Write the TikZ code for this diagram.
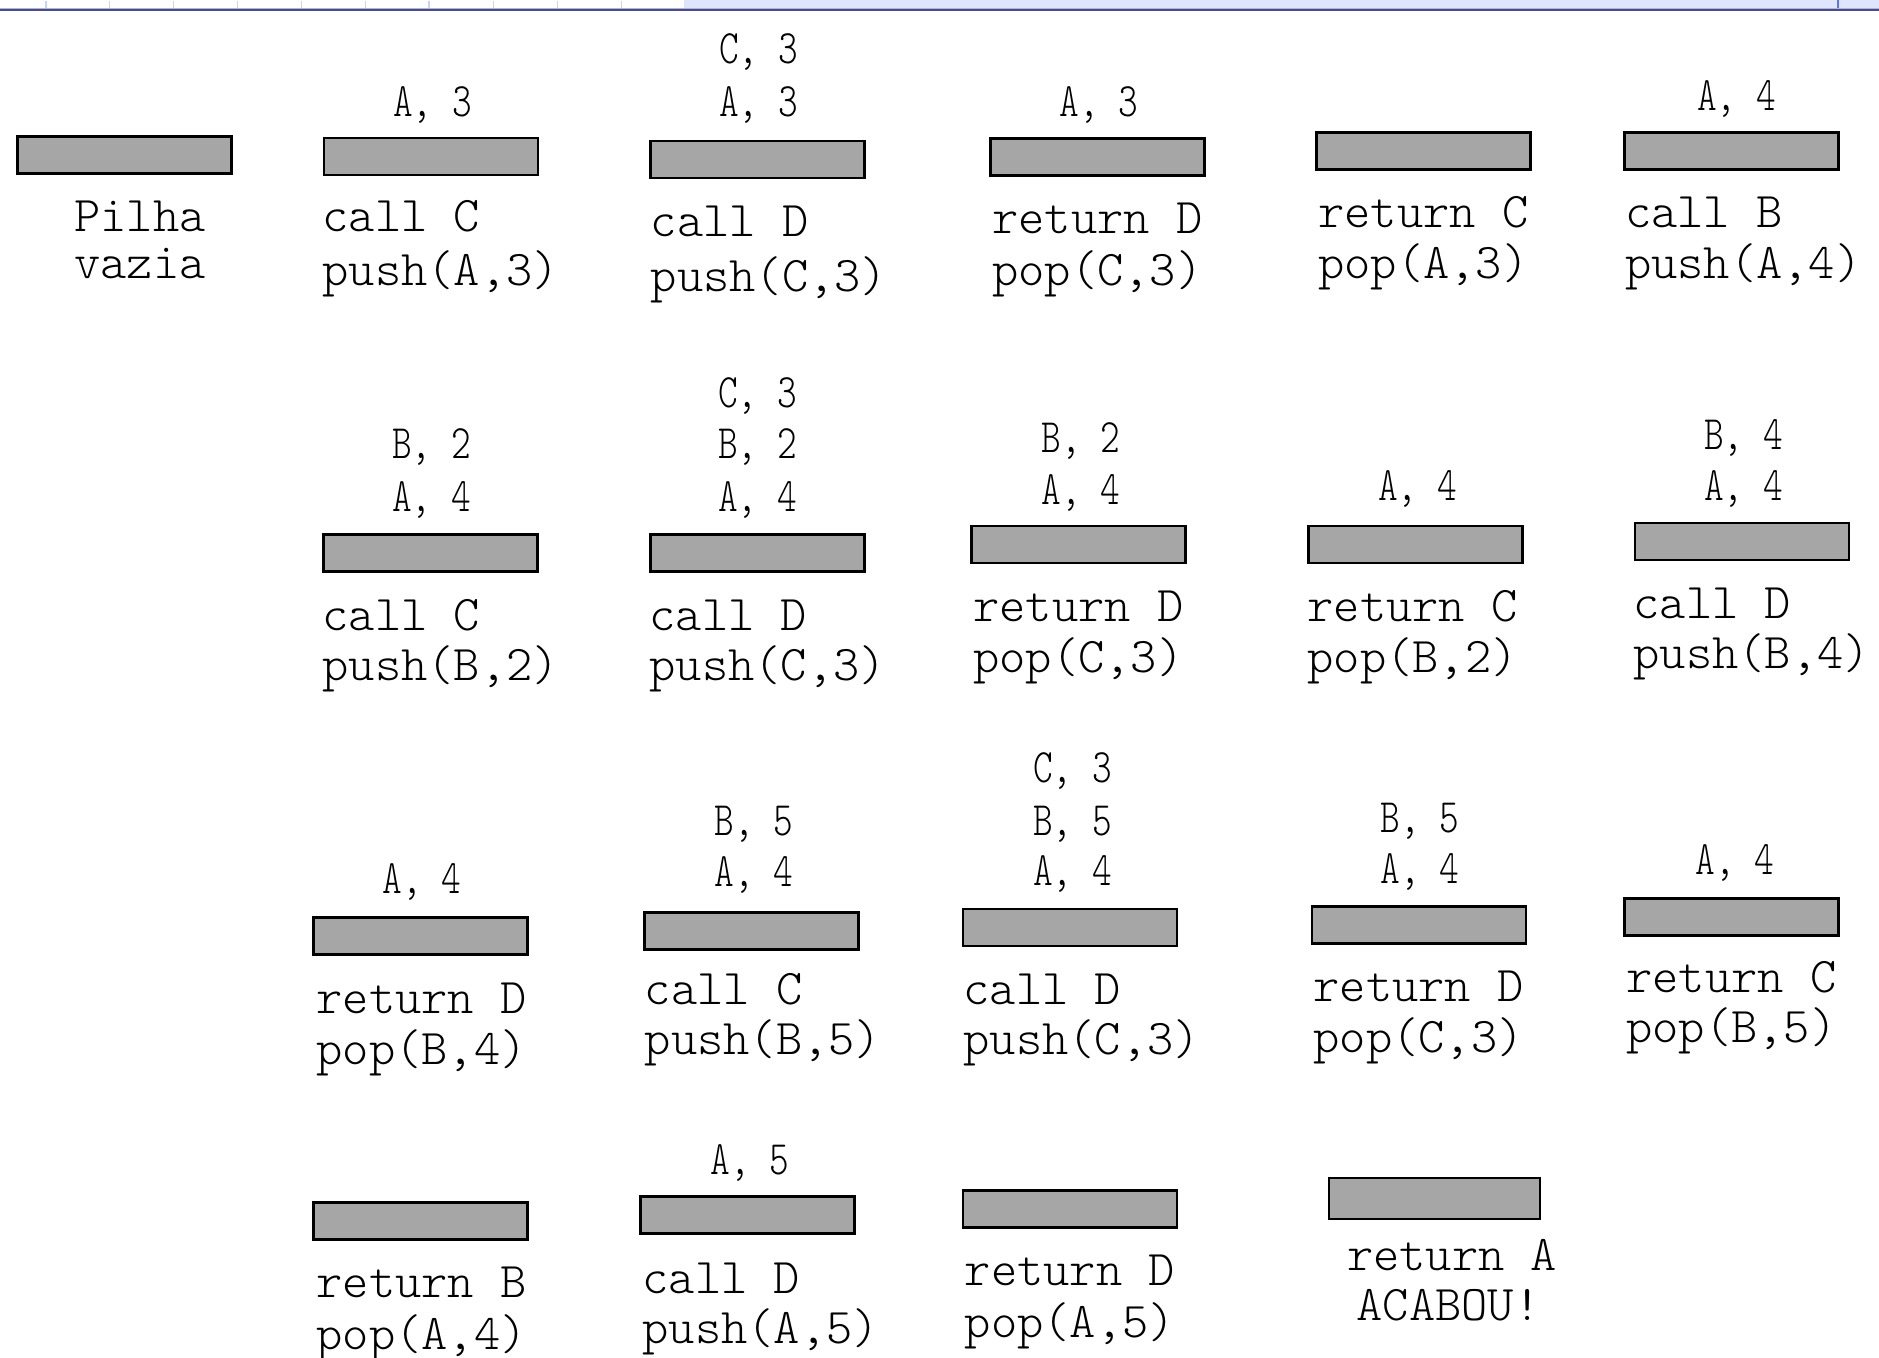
\documentclass[tikz,border=0pt]{standalone}
\usepackage{fontspec}
\usepackage{graphicx}
\newfontfamily\lmlight{Latin Modern Mono Light}
\definecolor{barfill}{RGB}{166,166,166}
\definecolor{bandblue}{RGB}{222,229,252}
\definecolor{tickblue}{RGB}{200,212,245}
\definecolor{navyline}{RGB}{72,76,138}
\definecolor{lavline}{RGB}{176,180,218}
\definecolor{vblue}{RGB}{90,118,230}
\newcommand\bodyfont{\fontsize{50}{56}\selectfont\lmlight}
\newcommand\lblfont{\fontsize{48}{52}\selectfont\lmlight}
\newcommand\narrow[1]{\scalebox{0.78}[1]{#1}}
\tikzset{
  bar/.style={draw=black, line width=2.6pt, fill=barfill, inner sep=0pt,
              minimum width=214pt, minimum height=37pt},
  txt/.style={font=\bodyfont, anchor=base west, inner sep=0pt},
  lbl/.style={font=\lblfont, anchor=base, inner sep=0pt},
}
\begin{document}
\begin{tikzpicture}[x=1.1983pt,y=-1.1983pt]
\useasboundingbox (0,0) rectangle (1568,1133);
\fill[white] (0,0) rectangle (1568,1133);
% top strip
\fill[bandblue] (571,0) rectangle (1568,7);
\foreach \x in {38.4,91.6,144.6,198.4,251.5,304.8,358,411.6,464.9,518.4}
  \draw[tickblue, line width=1.2pt] (\x,0.5) -- (\x,6.5);
\draw[vblue, line width=1.6pt] (1533.6,0) -- (1533.6,7.5);
\fill[lavline] (0,6.6) rectangle (1568,7.4);
\fill[navyline] (0,7.4) rectangle (1568,8.9);
% stack boxes
\foreach \n/\cx/\cy in {1/104/129.5, 2/359.5/130.5, 3/632/133, 4/916/131,
    5/1188/126, 6/1445/126, 7/359/461.5, 8/632/461.5, 9/900/454.5,
    10/1181/454.5, 11/1453.5/452, 12/351/781, 13/627/777, 14/893/774,
    15/1184/772, 16/1445/765, 17/351/1019, 18/624/1014, 19/893/1009}
  \node[bar] (b\n) at (\cx,\cy) {};
\node[bar, minimum width=211pt, minimum height=41pt] (b20) at (1197,1000) {};
% operation texts
\foreach \n/\x/\ya/\yb/\la/\lb in {
    1/62/193/232/Pilha/vazia,
    2/269/193/238/call C/{push(A,3)},
    3/543/197/243/call D/{push(C,3)},
    4/828/195/238/return D/{pop(C,3)},
    5/1100/190/232/return C/{pop(A,3)},
    6/1356/190/232/call B/{push(A,4)},
    7/269/526/568/call C/{push(B,2)},
    8/542/526/568/call D/{push(C,3)},
    9/812/519/561/return D/{pop(C,3)},
    10/1091/519/561/return C/{pop(B,2)},
    11/1363/516/558/call D/{push(B,4)},
    12/264/846/888/return D/{pop(B,4)},
    13/538/838/880/call C/{push(B,5)},
    14/804/838/880/call D/{push(C,3)},
    15/1096/836/878/return D/{pop(C,3)},
    16/1357/828/870/return C/{pop(B,5)},
    17/264/1083/1126/return B/{pop(A,4)},
    18/536/1079/1121/call D/{push(A,5)},
    19/805/1073/1116/return D/{pop(A,5)}}
  {\node[txt] (t\n-a) at (\x,\ya) {\la};
   \node[txt] (t\n-b) at (\x,\yb) {\lb};}
\node[txt] (t20-a) at (1124,1060) {return A};
\node[txt] (t20-b) at (1132,1102) {ACABOU!};
% stack contents
\foreach \n/\x/\y/\s in {
    2/361/97/{A, 3},
    3/633/53/{C, 3}, 3/633/97/{A, 3},
    4/917/97/{A, 3},
    6/1449/92/{A, 4},
    7/360/383/{B, 2}, 7/360/427/{A, 4},
    8/632/340/{C, 3}, 8/632/383/{B, 2}, 8/632/427/{A, 4},
    9/902/378/{B, 2}, 9/902/421/{A, 4},
    10/1183/418/{A, 4},
    11/1455/375/{B, 4}, 11/1455/418/{A, 4},
    12/352/746/{A, 4},
    13/629/697/{B, 5}, 13/629/740/{A, 4},
    14/895/653/{C, 3}, 14/895/697/{B, 5}, 14/895/739/{A, 4},
    15/1185/695/{B, 5}, 15/1185/737/{A, 4},
    16/1448/730/{A, 4},
    18/626/980/{A, 5}}
  \node[lbl] (l\n-\y) at (\x,\y) {\narrow{\s}};
\end{tikzpicture}
\end{document}
